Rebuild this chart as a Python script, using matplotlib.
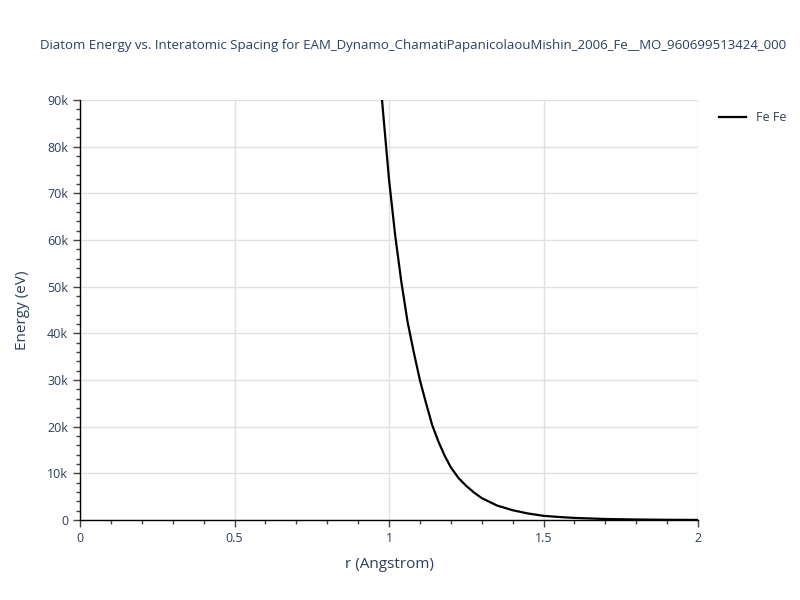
import matplotlib.pyplot as plt
from matplotlib.ticker import MultipleLocator, FuncFormatter

# values
r_vals = [0.970, 0.980, 1.000, 1.020, 1.040, 1.060, 1.080, 1.100, 1.120, 1.140,
          1.160, 1.180, 1.200, 1.225, 1.250, 1.275, 1.300, 1.350, 1.400, 1.450,
          1.500, 1.550, 1.600, 1.700, 1.800, 1.900, 2.000]
energy_vals = [96000, 88000, 73000, 61000, 51000, 42500, 36000, 30000, 25000, 20300,
               16800, 13800, 11300, 9000, 7300, 5900, 4700, 3100, 2100, 1400,
               900, 650, 450, 220, 110, 50, 20]
series_label = "Fe Fe"
title = "Diatom Energy vs. Interatomic Spacing for EAM_Dynamo_ChamatiPapanicolaouMishin_2006_Fe__MO_960699513424_000"

text_color = "#2a3f5f"
plt.rcParams["font.family"] = ["Open Sans", "DejaVu Sans"]

fig = plt.figure(figsize=(8, 6), dpi=100)
ax = fig.add_axes([0.1, 0.1333, 0.7725, 0.7])

ax.plot(r_vals, energy_vals, color="black", linewidth=1.6, label=series_label)

ax.set_xlim(0, 2)
ax.set_ylim(0, 90000)
ax.xaxis.set_major_locator(MultipleLocator(0.5))
ax.xaxis.set_minor_locator(MultipleLocator(0.1))
ax.yaxis.set_major_locator(MultipleLocator(10000))
ax.yaxis.set_minor_locator(MultipleLocator(2000))
ax.xaxis.set_major_formatter(FuncFormatter(lambda v, p: f"{v:g}"))
ax.yaxis.set_major_formatter(FuncFormatter(lambda v, p: "0" if v == 0 else f"{v / 1000:g}k"))

ax.grid(which="major", color="#e0e0e0", linewidth=1)
ax.set_axisbelow(True)
for side in ["top", "right"]:
    ax.spines[side].set_visible(False)
for side in ["left", "bottom"]:
    ax.spines[side].set_color("black")
    ax.spines[side].set_linewidth(1)

ax.tick_params(which="major", direction="out", length=5, width=1, color="#444444",
               labelcolor=text_color, labelsize=9)
ax.tick_params(which="minor", direction="out", length=3, width=1, color="#444444")

ax.set_xlabel("r (Angstrom)", color=text_color, fontsize=11, labelpad=9)
ax.set_ylabel("Energy (eV)", color=text_color, fontsize=11, labelpad=12)
fig.text(0.05, 0.925, title, color=text_color, fontsize=9.5, ha="left", va="center")

leg = ax.legend(loc="upper left", bbox_to_anchor=(1.015, 1.0), frameon=False,
                handlelength=2.2, fontsize=9)
for t in leg.get_texts():
    t.set_color(text_color)

fig.savefig("out.png", dpi=100)
plt.close(fig)
